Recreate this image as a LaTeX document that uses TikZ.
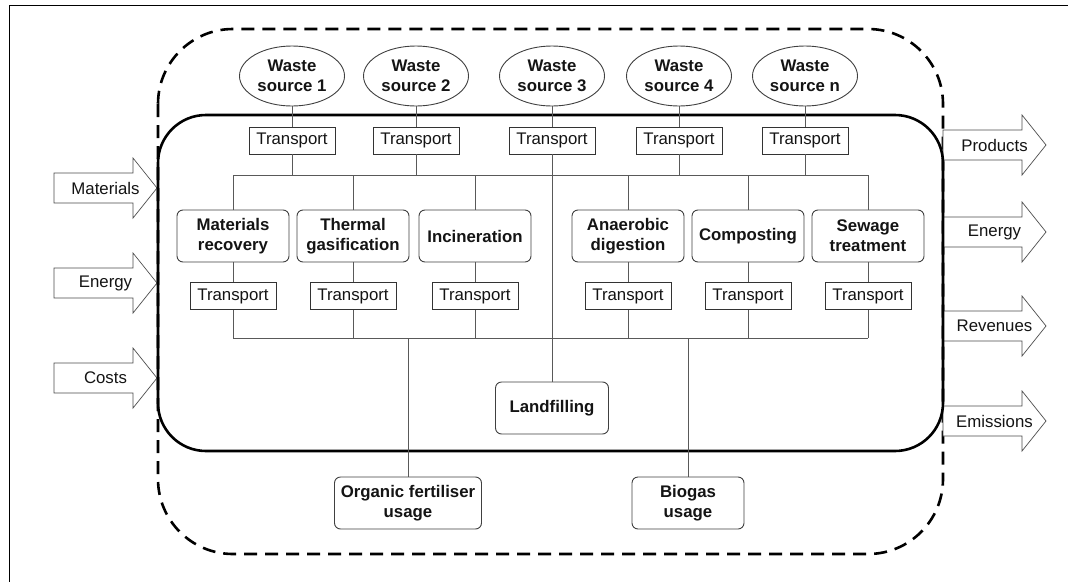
\documentclass[tikz,border=0pt]{standalone}
\usepackage{fontspec}
\setmainfont{Liberation Sans}
\usetikzlibrary{shapes.geometric}

% block arrow with a label: name, left x, centre y, text
\newcommand\flowarrow[4]{%
  \draw[flow] (#2,#3-15) -- ++(79,0) -- ++(0,-15) -- ++(24,30) -- ++(-24,30)
    -- ++(0,-15) -- ++(-79,0) -- cycle;
  \node[flowtext] (#1) at (#2+51.5,#3) {#4};}

\begin{document}
\begin{tikzpicture}[x=1pt,y=-1pt,
  every node/.style={font=\fontsize{16.8}{20}\selectfont, text=black!92, align=center},
  source/.style={ellipse, draw=black!75, line width=0.9pt, fill=white,
    minimum width=105pt, minimum height=60pt, inner sep=0pt,
    font=\fontsize{16.8}{20}\selectfont\bfseries},
  transport/.style={rectangle, draw=black!80, line width=0.9pt, fill=white,
    minimum width=86pt, minimum height=27pt, inner sep=0pt},
  process/.style={rectangle, rounded corners=6pt, draw=black!75, line width=0.9pt,
    fill=white, minimum width=112pt, minimum height=52pt, inner sep=0pt,
    font=\fontsize{16.8}{20}\selectfont\bfseries},
  link/.style={draw=black!65, line width=0.8pt},
  flow/.style={draw=black!70, line width=0.7pt, fill=white},
  flowtext/.style={inner sep=0pt}]

\useasboundingbox (0,0) rectangle (1068,581);
\clip (0,0) rectangle (1068,581);

% outer frame
\draw[line width=1pt] (9,5) rectangle (1090,600);

% system boundaries
\draw[line width=2.6pt, dash pattern=on 13pt off 8pt, rounded corners=75pt]
  (158,29) rectangle (943,554);

% inputs and outputs
\flowarrow{inmat}{54}{188}{Materials}
\flowarrow{inen}{54}{283}{Energy}
\flowarrow{incost}{54}{378}{Costs}
\flowarrow{outprod}{943}{145}{Products}
\flowarrow{outen}{943}{232}{Energy}
\flowarrow{outrev}{943}{326}{Revenues}
\flowarrow{outem}{943}{421}{Emissions}

\draw[line width=2.6pt, rounded corners=48pt] (158,115) rectangle (943,451);

% waste sources
\node[source] (ws1) at (292,76) {Waste\\source 1};
\node[source] (ws2) at (416,76) {Waste\\source 2};
\node[source] (ws3) at (552,76) {Waste\\source 3};
\node[source] (ws4) at (679,76) {Waste\\source 4};
\node[source] (ws5) at (805,76) {Waste\\source n};

% collection transport
\node[transport] (ta1) at (292,140.5) {Transport};
\node[transport] (ta2) at (416,140.5) {Transport};
\node[transport] (ta3) at (552,140.5) {Transport};
\node[transport] (ta4) at (679,140.5) {Transport};
\node[transport] (ta5) at (805,140.5) {Transport};

% distribution buses
\coordinate (busTL) at (233,175);
\coordinate (busTR) at (868,175);
\coordinate (busBL) at (233,338);
\coordinate (busBR) at (868,338);

% treatment processes
\node[process] (mr) at (233,236) {Materials\\recovery};
\node[process] (tg) at (353,236) {Thermal\\gasification};
\node[process] (inc) at (475,236) {Incineration};
\node[process] (ad) at (628,236) {Anaerobic\\digestion};
\node[process] (comp) at (748,236) {Composting};
\node[process] (sew) at (868,236) {Sewage\\treatment};

% residue transport
\node[transport] (tb1) at (233,296) {Transport};
\node[transport] (tb2) at (353,296) {Transport};
\node[transport] (tb3) at (475,296) {Transport};
\node[transport] (tb4) at (628,296) {Transport};
\node[transport] (tb5) at (748,296) {Transport};
\node[transport] (tb6) at (868,296) {Transport};

% final destinations
\node[process, minimum width=113pt] (lf) at (552,408) {Landfilling};
\node[process, minimum width=147pt] (of) at (408,503) {Organic fertiliser\\usage};
\node[process] (bg) at (688,503) {Biogas\\usage};

% connectors
\foreach \i in {1,...,5} \draw[link] (ws\i.south) -- (ta\i.north);
\foreach \i in {1,2,4,5} \draw[link] (ta\i.south) -- (ta\i.south |- busTL);
\draw[link] (ta3.south) -- (lf.north);
\draw[link] (busTL) -- (busTR);
\draw[link] (busBL) -- (busBR);
\foreach \p/\t in {mr/tb1, tg/tb2, inc/tb3, ad/tb4, comp/tb5, sew/tb6} {
  \draw[link] (\p.north |- busTL) -- (\p.north);
  \draw[link] (\p.south) -- (\t.north);
  \draw[link] (\t.south) -- (\t.south |- busBL);
}
\draw[link] (of.north |- busBL) -- (of.north);
\draw[link] (bg.north |- busBL) -- (bg.north);

\end{tikzpicture}
\end{document}
